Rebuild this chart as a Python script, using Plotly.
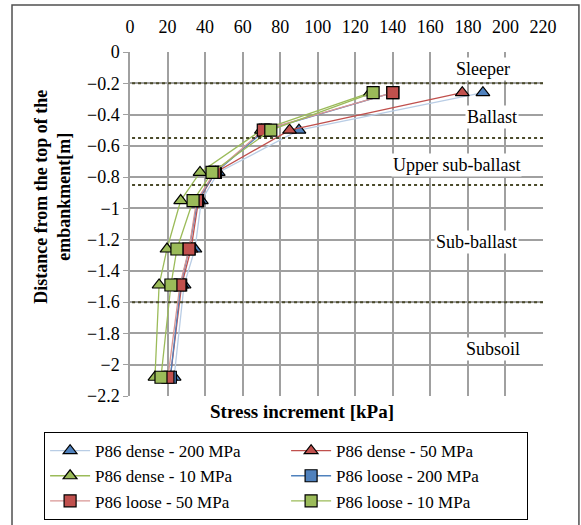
import plotly.graph_objects as go

depth = [-0.26, -0.5, -0.77, -0.95, -1.26, -1.49, -2.08]

dense_200 = [188, 90, 47, 38, 34.6, 28.8, 23.5]
dense_50 = [177, 85, 45.5, 36.5, 32.5, 27.5, 21.5]
dense_10 = [128, 70, 37.3, 27, 19.7, 15.5, 13.3]
loose_200 = [140, 72, 45.5, 36, 31.5, 27, 21.5]
loose_50 = [140, 71, 45, 35.5, 31.4, 26.6, 20.2]
loose_10 = [129.5, 75, 43.7, 33.6, 25, 21.8, 16.5]

layer_bounds = [-0.2, -0.55, -0.85, -1.6]
layer_names = ["Sleeper", "Ballast", "Upper sub-ballast", "Sub-ballast", "Subsoil"]
layer_label_x = [188, 193, 173.7, 184.4, 193.4]
layer_label_y = [-0.109, -0.415, -0.722, -1.214, -1.898]

series = [
    ("P86 dense - 200 MPa", dense_200, "#B9CDE5", "#4F81BD", "triangle-up"),
    ("P86 dense - 50 MPa", dense_50, "#C0504D", "#C0504D", "triangle-up"),
    ("P86 dense - 10 MPa", dense_10, "#9BBB59", "#9BBB59", "triangle-up"),
    ("P86 loose - 200 MPa", loose_200, "#4F81BD", "#4F81BD", "square"),
    ("P86 loose - 50 MPa", loose_50, "#D99694", "#C0504D", "square"),
    ("P86 loose - 10 MPa", loose_10, "#9BBB59", "#9BBB59", "square"),
]

FONT = "Liberation Serif, Times New Roman, serif"
fig = go.Figure()
for name, vals, lc, mc, sym in series:
    fig.add_trace(go.Scatter(
        x=vals, y=depth, name=name, mode="lines+markers",
        line=dict(color=lc, width=1.3),
        marker=dict(symbol=sym, size=12, color=mc, line=dict(color="black", width=1.2)),
    ))

for yb in layer_bounds:
    fig.add_shape(type="line", xref="paper", yref="y", x0=0.005, x1=1, y0=yb, y1=yb,
                  line=dict(color="#4A4A2A", width=2, dash="dot"))

for t, lx, ly in zip(layer_names, layer_label_x, layer_label_y):
    fig.add_annotation(x=lx, y=ly, text=t, showarrow=False, bgcolor="white",
                       font=dict(family=FONT, size=18, color="black"), borderpad=1)

# outer chart border
fig.add_shape(type="rect", xref="paper", yref="paper", x0=-0.2857, x1=1.087, y0=-0.6, y1=1.1366,
              line=dict(color="#505050", width=1.5), layer="below")

fig.add_annotation(xref="paper", yref="paper", x=0.417, y=-0.044, yanchor="middle",
                   text="<b>Stress increment [kPa]</b>", showarrow=False,
                   font=dict(family=FONT, size=19, color="black"))
fig.add_annotation(xref="paper", yref="paper", x=-0.245, y=0.58, textangle=-90,
                   text="<b>Distance from the top of the<br>embankment[m]</b>", showarrow=False,
                   font=dict(family=FONT, size=18, color="black"))

fig.update_layout(
    width=581, height=525,
    margin=dict(l=130, r=38, t=52, b=129, autoexpand=False),
    paper_bgcolor="white", plot_bgcolor="white",
    font=dict(family=FONT, size=18, color="black"),
    showlegend=True,
    legend=dict(orientation="h", x=-0.208, y=-0.105, xanchor="left", yanchor="top",
                bordercolor="black", borderwidth=1, entrywidth=186, entrywidthmode="pixels",
                font=dict(family=FONT, size=17, color="black"), tracegroupgap=0,
                itemwidth=40),
    xaxis=dict(range=[0, 220], dtick=20, side="top", showgrid=True, gridcolor="#A0A0A0",
               gridwidth=1.5, zeroline=False, showline=False, ticks="", ticklabelstandoff=14,
               tickfont=dict(family=FONT, size=18, color="black")),
    yaxis=dict(range=[-2.2, 0], dtick=0.2, showgrid=True, gridcolor="#A0A0A0", gridwidth=1.5,
               zeroline=False, showline=True, linecolor="#A0A0A0", linewidth=1.5,
               ticks="outside", ticklen=5, tickcolor="#A0A0A0",
               tickfont=dict(family=FONT, size=18, color="black")),
)
fig.write_html("out.html")
